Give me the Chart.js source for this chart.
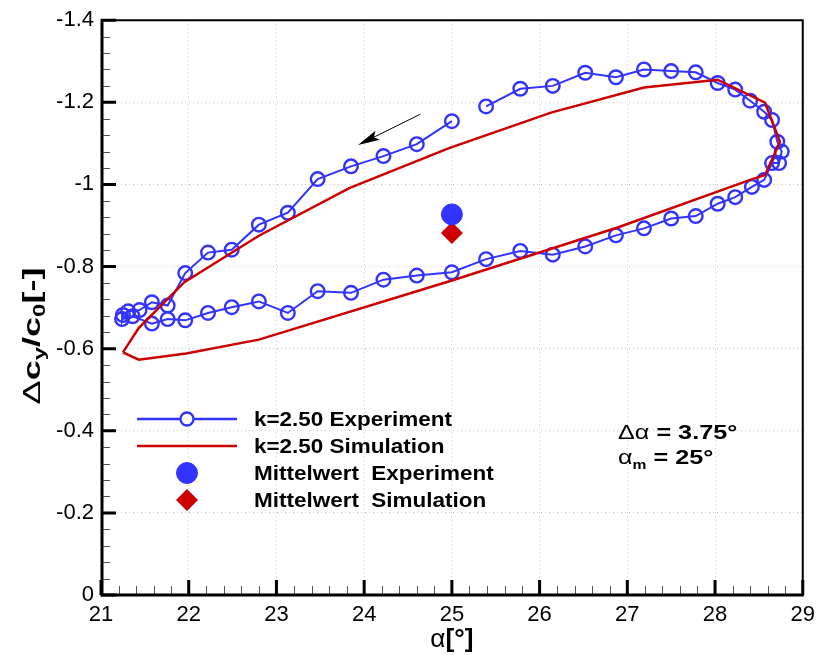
<!DOCTYPE html>
<html>
<head>
<meta charset="utf-8">
<script src="https://cdn.jsdelivr.net/npm/chart.js@4.4.1/dist/chart.umd.min.js"></script>
<style>
  html, body { margin: 0; padding: 0; background: #fff; }
</style>
</head>
<body>
<canvas id="chart" width="822" height="655"></canvas>
<script>
const BLUE = '#3333ff';
const RED = '#cc0000';
const FONT = '"Liberation Sans", Arial, sans-serif';

// k = 2.50 experiment loop: alpha [deg] and dcy/c0
const expAlpha = [25.00, 24.60, 24.22, 23.85, 23.47, 23.13, 22.80, 22.49, 22.22, 21.96,
  21.76, 21.58, 21.44, 21.31, 21.25, 21.24, 21.36, 21.58, 21.76, 21.96,
  22.22, 22.49, 22.80, 23.13, 23.47, 23.85, 24.22, 24.60, 25.00, 25.39,
  25.78, 26.15, 26.52, 26.87, 27.19, 27.50, 27.78, 28.03, 28.23, 28.42,
  28.56, 28.65, 28.73, 28.76, 28.71, 28.65, 28.56, 28.40, 28.23, 28.03,
  27.78, 27.50, 27.19, 26.87, 26.52, 26.15, 25.78, 25.39];
const expCy = [-1.154, -1.098, -1.069, -1.044, -1.013, -0.931, -0.902, -0.841, -0.834, -0.784,
  -0.705, -0.713, -0.694, -0.691, -0.682, -0.672, -0.679, -0.661, -0.672, -0.669,
  -0.687, -0.701, -0.715, -0.687, -0.740, -0.736, -0.768, -0.778, -0.786, -0.818,
  -0.838, -0.829, -0.849, -0.876, -0.893, -0.917, -0.923, -0.953, -0.969, -0.994,
  -1.011, -1.052, -1.052, -1.080, -1.104, -1.157, -1.177, -1.204, -1.231, -1.247,
  -1.273, -1.276, -1.280, -1.261, -1.272, -1.240, -1.233, -1.190];

// k = 2.50 simulation loop
const simAlpha = [21.25, 21.43, 21.95, 22.80, 23.83, 24.96, 26.13, 27.19, 28.03, 28.57,
  28.74, 28.57, 28.40, 26.89, 25.00, 22.80, 21.97, 21.43, 21.25];
const simCy = [-0.591, -0.650, -0.762, -0.875, -0.991, -1.088, -1.175, -1.236, -1.255, -1.199,
  -1.104, -1.023, -1.011, -0.895, -0.766, -0.622, -0.588, -0.573, -0.591];

// mean values
const meanAlpha = [25.0];
const meanExpCy = [-0.927];
const meanSimCy = [-0.882];

const legendLabels = ['k=2.50 Experiment', 'k=2.50 Simulation', 'Mittelwert  Experiment', 'Mittelwert  Simulation'];

// direction arrow on the upper branch (tail -> tip)
const arrowAlpha = [24.64, 23.93];
const arrowCy = [-1.171, -1.096];

const toPoints = (xs, ys) => xs.map((x, i) => ({ x, y: ys[i] }));

// draws mixed-font text; optional horizontal stretch (sx)
function drawRuns(ctx, runs, x, y, center, sx) {
  let w = 0;
  runs.forEach(r => { ctx.font = r.font; r.w = ctx.measureText(r.t).width; w += r.w; });
  ctx.save();
  ctx.translate(x, y);
  ctx.scale(sx || 1, 1);
  let cx = center ? -w / 2 : 0;
  runs.forEach(r => { ctx.font = r.font; ctx.fillText(r.t, cx, r.dy || 0); cx += r.w; });
  ctx.restore();
}

function circle(ctx, x, y, r, fill) {
  ctx.beginPath();
  ctx.arc(x, y, r, 0, Math.PI * 2);
  if (fill) { ctx.fillStyle = BLUE; ctx.fill(); }
  ctx.strokeStyle = BLUE;
  ctx.stroke();
}

const decorations = {
  id: 'decorations',
  afterDraw(chart) {
    const { ctx, chartArea: a, scales: { x, y } } = chart;
    ctx.save();

    // minor ticks (inside)
    ctx.strokeStyle = '#555';
    ctx.lineWidth = 1;
    ctx.beginPath();
    for (let i = 0; i <= 40; i++) {
      const px = Math.round(x.getPixelForValue(21 + i * 0.2)) + 0.5;
      ctx.moveTo(px, a.bottom); ctx.lineTo(px, a.bottom - 9);
    }
    for (let i = 0; i <= 35; i++) {
      const py = Math.round(y.getPixelForValue(-i * 0.04)) + 0.5;
      ctx.moveTo(a.left, py); ctx.lineTo(a.left + 9, py);
    }
    ctx.stroke();

    // major ticks
    ctx.strokeStyle = '#000';
    ctx.lineWidth = 3;
    ctx.beginPath();
    for (let i = 0; i <= 8; i++) {
      const px = x.getPixelForValue(21 + i);
      ctx.moveTo(px, a.bottom); ctx.lineTo(px, a.bottom - 15);
    }
    for (let i = 0; i <= 7; i++) {
      const py = y.getPixelForValue(-i * 0.2);
      ctx.moveTo(a.left, py); ctx.lineTo(a.left + 15, py);
    }
    ctx.stroke();

    // frame
    ctx.lineWidth = 2;
    ctx.beginPath();
    ctx.moveTo(a.left, a.top); ctx.lineTo(a.right, a.top); ctx.lineTo(a.right, a.bottom);
    ctx.stroke();
    ctx.lineWidth = 3;
    ctx.beginPath();
    ctx.moveTo(a.left + 1, a.top - 1); ctx.lineTo(a.left + 1, a.bottom); ctx.lineTo(a.right + 1, a.bottom);
    ctx.stroke();

    // arrow
    const x0 = x.getPixelForValue(arrowAlpha[0]), y0 = y.getPixelForValue(arrowCy[0]);
    const x1 = x.getPixelForValue(arrowAlpha[1]), y1 = y.getPixelForValue(arrowCy[1]);
    const ang = Math.atan2(y1 - y0, x1 - x0);
    const hl = 22, hw = 5;
    const c = Math.cos(ang), s = Math.sin(ang);
    ctx.lineWidth = 1;
    ctx.beginPath();
    ctx.moveTo(x0, y0);
    ctx.lineTo(x1 - c * hl * 0.8, y1 - s * hl * 0.8);
    ctx.stroke();
    ctx.fillStyle = '#000';
    ctx.beginPath();
    ctx.moveTo(x1, y1);
    ctx.lineTo(x1 - c * hl - s * hw, y1 - s * hl + c * hw);
    ctx.lineTo(x1 - c * hl * 0.8, y1 - s * hl * 0.8);
    ctx.lineTo(x1 - c * hl + s * hw, y1 - s * hl - c * hw);
    ctx.closePath();
    ctx.fill();

    // legend
    const lx0 = 137, lx1 = 237, lmx = 187, tx = 254;
    const rows = [419, 446, 473, 500];
    ctx.lineWidth = 2.5;
    ctx.strokeStyle = BLUE;
    ctx.beginPath(); ctx.moveTo(lx0, rows[0]); ctx.lineTo(lx1, rows[0]); ctx.stroke();
    ctx.fillStyle = '#fff';
    ctx.beginPath(); ctx.arc(lmx, rows[0], 6.5, 0, Math.PI * 2); ctx.fill();
    ctx.lineWidth = 2.3;
    circle(ctx, lmx, rows[0], 6.5, false);
    ctx.strokeStyle = RED;
    ctx.lineWidth = 2.5;
    ctx.beginPath(); ctx.moveTo(lx0, rows[1]); ctx.lineTo(lx1, rows[1]); ctx.stroke();
    ctx.lineWidth = 1;
    circle(ctx, lmx, rows[2], 10.5, true);
    ctx.fillStyle = RED;
    ctx.beginPath();
    ctx.moveTo(lmx - 11, rows[3]); ctx.lineTo(lmx, rows[3] - 11);
    ctx.lineTo(lmx + 11, rows[3]); ctx.lineTo(lmx, rows[3] + 11);
    ctx.closePath(); ctx.fill();

    ctx.fillStyle = '#000';
    ctx.textBaseline = 'middle';
    const legFont = 'bold 21px ' + FONT;
    ctx.font = legFont;
    const legSx = 198 / ctx.measureText(legendLabels[0]).width;
    legendLabels.forEach((t, i) => drawRuns(ctx, [{ t, font: legFont }], tx, rows[i] + 1, false, legSx));

    // amplitude / mean angle note
    ctx.textBaseline = 'alphabetic';
    const noteSx = 1.2;
    drawRuns(ctx, [
      { t: '\u0394\u03b1', font: '21px ' + FONT },
      { t: ' = 3.75\u00b0', font: 'bold 21px ' + FONT }
    ], 618, 439, false, noteSx);
    drawRuns(ctx, [
      { t: '\u03b1', font: '21px ' + FONT },
      { t: 'm', font: 'bold 13px ' + FONT, dy: 5 },
      { t: ' = 25\u00b0', font: 'bold 21px ' + FONT }
    ], 618, 464, false, noteSx);

    // axis titles
    drawRuns(ctx, [
      { t: '\u03b1', font: '25px ' + FONT },
      { t: '[\u00b0]', font: 'bold 25px ' + FONT }
    ], x.getPixelForValue(25), 647, true, 1.05);

    ctx.translate(40, 336);
    ctx.rotate(-Math.PI / 2);
    drawRuns(ctx, [
      { t: '\u0394', font: '24px ' + FONT },
      { t: 'c', font: 'bold 24px ' + FONT },
      { t: 'y', font: 'bold 16px ' + FONT, dy: 5 },
      { t: '/c', font: 'bold 24px ' + FONT },
      { t: '0', font: 'bold 16px ' + FONT, dy: 5 },
      { t: '[-]', font: 'bold 24px ' + FONT }
    ], 0, 0, true, 1.5);

    ctx.restore();
  }
};

new Chart(document.getElementById('chart'), {
  type: 'scatter',
  data: {
    datasets: [
      {
        label: legendLabels[1],
        data: toPoints(simAlpha, simCy),
        showLine: true,
        borderColor: RED,
        borderWidth: 2.5,
        pointRadius: 0,
        tension: 0
      },
      {
        label: legendLabels[0],
        data: toPoints(expAlpha, expCy),
        showLine: true,
        borderColor: BLUE,
        borderWidth: 2,
        pointRadius: 6.8,
        pointBorderWidth: 2.4,
        pointBorderColor: BLUE,
        pointBackgroundColor: 'rgba(0,0,0,0)',
        tension: 0
      },
      {
        label: legendLabels[2],
        data: toPoints(meanAlpha, meanExpCy),
        pointRadius: 10.5,
        pointBorderWidth: 1,
        pointBackgroundColor: BLUE,
        pointBorderColor: BLUE
      },
      {
        label: legendLabels[3],
        data: toPoints(meanAlpha, meanSimCy),
        pointStyle: 'rectRot',
        pointRadius: 11,
        pointBorderWidth: 0,
        pointBackgroundColor: RED,
        pointBorderColor: RED
      }
    ]
  },
  options: {
    responsive: false,
    animation: false,
    events: [],
    layout: { padding: { left: 0, top: 15, right: 16.5, bottom: 0 } },
    plugins: { legend: { display: false }, tooltip: { enabled: false } },
    scales: {
      x: {
        type: 'linear',
        min: 21,
        max: 29,
        afterFit: s => { s.height = 60; },
        ticks: { stepSize: 1, padding: 7, maxRotation: 0, color: '#000', font: { family: FONT, size: 22 } },
        grid: { color: '#c8c8c8', lineWidth: 1, drawTicks: false },
        border: { display: false, dash: [1, 3] }
      },
      y: {
        type: 'linear',
        min: -1.4,
        max: 0,
        reverse: true,
        afterFit: s => { s.width = 101; },
        ticks: {
          stepSize: 0.2,
          padding: 7,
          color: '#000',
          font: { family: FONT, size: 22 },
          callback: v => String(Math.round(v * 10) / 10)
        },
        grid: { color: '#c8c8c8', lineWidth: 1, drawTicks: false },
        border: { display: false, dash: [1, 3] }
      }
    }
  },
  plugins: [decorations]
});
</script>
</body>
</html>
